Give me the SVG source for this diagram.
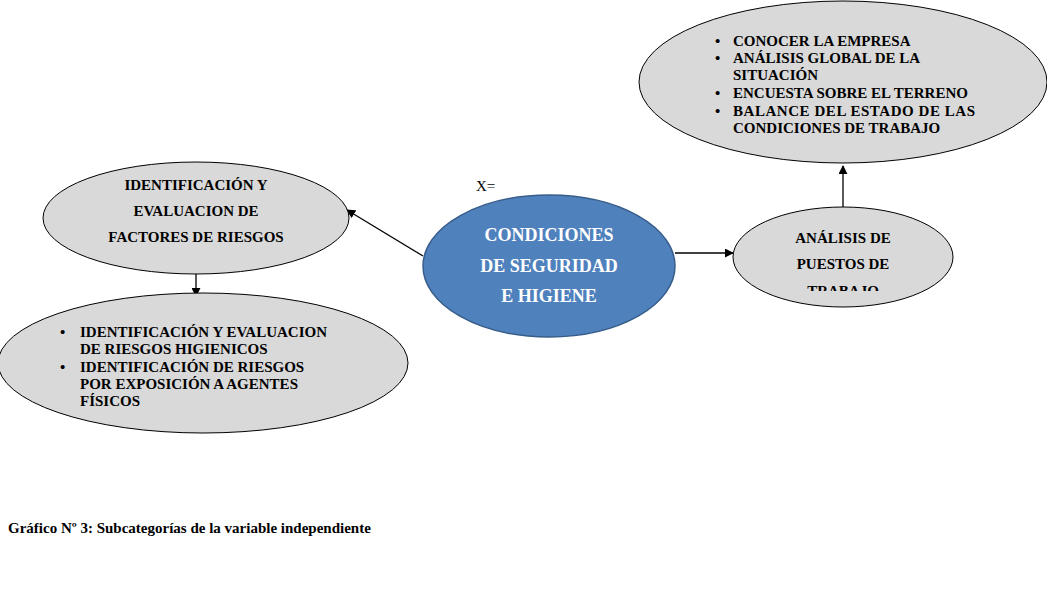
<svg xmlns="http://www.w3.org/2000/svg" width="1047" height="602" viewBox="0 0 1047 602">
<style>
.g{fill:#d9d9d9;stroke:#000;stroke-width:1}
.t{font-family:"Liberation Serif",serif;font-weight:bold;font-size:15px;fill:#000}
.c{text-anchor:middle}
.w{font-family:"Liberation Serif",serif;font-weight:bold;font-size:18px;fill:#fff;text-anchor:middle}
.e{stroke:#000;stroke-width:1.3;fill:none;marker-end:url(#a)}
</style>
<defs>
<marker id="a" viewBox="0 0 10 10" refX="9" refY="5" markerWidth="9" markerHeight="9" markerUnits="userSpaceOnUse" orient="auto"><path d="M0,0 L10,5 L0,10 z" fill="#000"/></marker>
<clipPath id="cl"><rect x="733" y="200" width="220" height="91"/></clipPath>
</defs>
<rect width="1047" height="602" fill="#fff"/>
<g id="connectors">
<line class="e" x1="423" y1="256" x2="347" y2="210"/>
<line class="e" x1="675" y1="253" x2="733" y2="253"/>
<line class="e" x1="843" y1="212" x2="843" y2="166"/>
<line class="e" x1="196" y1="258" x2="196" y2="296"/>
</g>
<g id="n-top">
<ellipse class="g" cx="843" cy="82" rx="204" ry="81"/>
<g class="t">
<text x="715" y="46">•</text><text x="733" y="46">CONOCER LA EMPRESA</text>
<text x="715" y="63">•</text><text x="733" y="63">ANÁLISIS GLOBAL DE LA</text>
<text x="733" y="80">SITUACIÓN</text>
<text x="715" y="98">•</text><text x="733" y="98">ENCUESTA SOBRE EL TERRENO</text>
<text x="715" y="116">•</text><text x="733" y="116" textLength="242" lengthAdjust="spacing">BALANCE DEL ESTADO DE LAS</text>
<text x="733" y="133">CONDICIONES DE TRABAJO</text>
</g>
</g>
<g id="n-ident">
<ellipse class="g" cx="196" cy="218" rx="153" ry="56"/>
<g class="t c">
<text x="196" y="190">IDENTIFICACIÓN Y</text>
<text x="196" y="216">EVALUACION DE</text>
<text x="196" y="242">FACTORES DE RIESGOS</text>
</g>
</g>
<g id="n-sub">
<ellipse class="g" cx="203" cy="363" rx="205" ry="70"/>
<g class="t">
<text x="60" y="337">•</text><text x="80" y="337">IDENTIFICACIÓN Y EVALUACION</text>
<text x="80" y="354">DE RIESGOS HIGIENICOS</text>
<text x="60" y="372">•</text><text x="80" y="372">IDENTIFICACIÓN DE RIESGOS</text>
<text x="80" y="389">POR EXPOSICIÓN A AGENTES</text>
<text x="80" y="406">FÍSICOS</text>
</g>
</g>
<g id="n-center">
<ellipse cx="549" cy="266" rx="126" ry="71" fill="#4f81bd" stroke="#385d8a" stroke-width="1.5"/>
<text class="w" x="549" y="241">CONDICIONES</text>
<text class="w" x="549" y="272">DE SEGURIDAD</text>
<text class="w" x="549" y="302">E HIGIENE</text>
</g>
<text x="476" y="191" font-family="Liberation Serif,serif" font-size="15" fill="#000">X=</text>
<g id="n-analisis">
<ellipse class="g" cx="843" cy="257" rx="110" ry="50"/>
<g class="t c" clip-path="url(#cl)">
<text x="843" y="243">ANÁLISIS DE</text>
<text x="843" y="269">PUESTOS DE</text>
<text x="843" y="296">TRABAJO</text>
</g>
</g>
<text x="8" y="533" font-family="Liberation Serif,serif" font-weight="bold" font-size="15" fill="#000">Gráfico Nº 3: Subcategorías de la variable independiente</text>
</svg>
